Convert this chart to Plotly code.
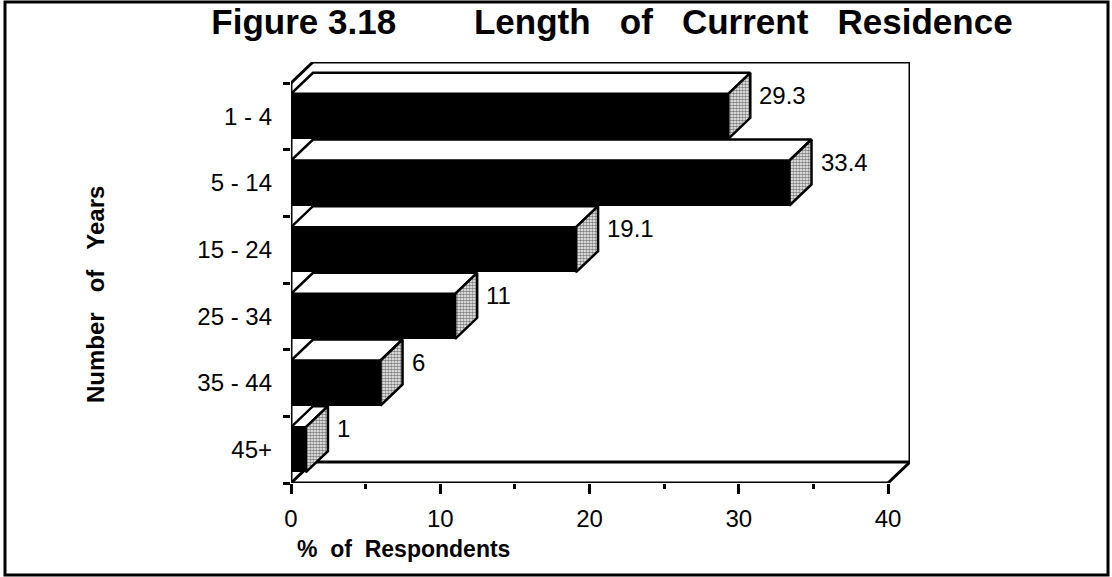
import plotly.graph_objects as go

# Length of current residence, share of respondents (%)
categories = ["1 - 4", "5 - 14", "15 - 24", "25 - 34", "35 - 44", "45+"]
values = [29.3, 33.4, 19.1, 11, 6, 1]
value_labels = ["29.3", "33.4", "19.1", "11", "6", "1"]
x_ticks = [0, 10, 20, 30, 40]

# ---- layout geometry (pixels) ----
W, H = 1112, 577
PL, PR, PT, PB = 291, 910, 62, 483      # plot area incl. 3-D depth
FRONT_RIGHT = 888                       # x = 40 on the front plane
FRONT_TOP = 83                          # top of the front y axis
DX_PX, DY_PX = PR - FRONT_RIGHT, FRONT_TOP - PT

xmax = x_ticks[-1]
ux = xmax / (FRONT_RIGHT - PL)          # data units per px (x)
n = len(categories)
uy = n / (PB - FRONT_TOP)               # data units per px (y)
dx = DX_PX * ux
dy = DY_PX * uy
x_range = [0, (PR - PL) * ux]
y_lo, y_hi = -0.5, n - 0.5
y_range = [y_hi, y_lo - dy]             # reversed: first category on top
half = 0.3375                           # half bar thickness

pos = list(range(n))

fig = go.Figure()

# frame: back wall, floor and wall edges
frame = dict(type="line", xref="x", yref="y", line=dict(color="black", width=3), layer="below")
segs = [
    (dx, y_lo - dy, xmax + dx, y_lo - dy),         # back wall top
    (xmax + dx, y_lo - dy, xmax + dx, y_hi - dy),  # back wall right
    (dx, y_hi - dy, xmax + dx, y_hi - dy),         # floor back edge
    (0, y_lo, dx, y_lo - dy),                      # left wall top edge
    (0, y_hi, dx, y_hi - dy),                      # floor left edge
    (xmax, y_hi, xmax + dx, y_hi - dy),            # floor right edge
    (0, y_lo, 0, y_hi),                            # front y axis
    (0, y_hi, xmax, y_hi),                         # front x axis
]
shapes = [dict(frame, x0=a, y0=b, x1=c, y1=d) for a, b, c, d in segs]

# front faces
fig.add_trace(go.Bar(
    x=values, y=pos, orientation="h", width=2 * half,
    marker=dict(color="black", line=dict(width=0)),
    hoverinfo="skip", showlegend=False,
))

# top faces
tx, ty = [], []
for v, c in zip(values, pos):
    t = c - half
    tx += [0, v, v + dx, dx, 0, None]
    ty += [t, t, t - dy, t - dy, t, None]
fig.add_trace(go.Scatter(
    x=tx, y=ty, mode="lines", fill="toself", fillcolor="white",
    line=dict(color="black", width=2.5), hoverinfo="skip", showlegend=False,
))

# end (side) faces, stippled
sx, sy = [], []
for v, c in zip(values, pos):
    t, b = c - half, c + half
    sx += [v, v + dx, v + dx, v, v, None]
    sy += [t, t - dy, b - dy, b, t, None]
fig.add_trace(go.Scatter(
    x=sx, y=sy, mode="lines", fill="toself",
    fillpattern=dict(shape=".", fgcolor="black", bgcolor="white", size=3, solidity=0.6),
    line=dict(color="black", width=2.5), hoverinfo="skip", showlegend=False,
))

font = "Liberation Sans, Arial, Helvetica, sans-serif"
annotations = []
for v, c, lab in zip(values, pos, value_labels):
    annotations.append(dict(
        x=v + dx, y=c - dy, xref="x", yref="y", text=lab, showarrow=False,
        xanchor="left", yanchor="middle", xshift=7,
        font=dict(family=font, size=24, color="black"),
    ))


def px_to_paper(px, py):
    return (px - PL) / (PR - PL), (PB - py) / (PB - PT)


ax_x, ax_y = px_to_paper(403, 549)
annotations.append(dict(
    x=ax_x, y=ax_y, xref="paper", yref="paper", showarrow=False,
    text="%&nbsp;&nbsp;of&nbsp;&nbsp;Respondents", xanchor="center", yanchor="middle",
    font=dict(family=font, size=23, color="black", weight="bold"),
))
ay_x, ay_y = px_to_paper(95, 294)
annotations.append(dict(
    x=ay_x, y=ay_y, xref="paper", yref="paper", showarrow=False, textangle=-90,
    text="Number&nbsp;&nbsp;&nbsp;of&nbsp;&nbsp;&nbsp;Years", xanchor="center", yanchor="middle",
    font=dict(family=font, size=24, color="black", weight="bold"),
))

# outer border
bx0, by0 = px_to_paper(5, 575)
bx1, by1 = px_to_paper(1108, 2)
shapes.append(dict(type="rect", xref="paper", yref="paper", x0=bx0, y0=by0, x1=bx1, y1=by1,
                   line=dict(color="black", width=3), fillcolor="rgba(0,0,0,0)"))

title_text = ("Figure&nbsp;3.18" + "&nbsp;" * 8 +
              "Length&nbsp;&nbsp;&nbsp;of&nbsp;&nbsp;&nbsp;Current&nbsp;&nbsp;&nbsp;Residence")

fig.update_layout(
    width=W, height=H,
    margin=dict(l=PL, r=W - PR, t=PT, b=H - PB, pad=0),
    paper_bgcolor="white", plot_bgcolor="white",
    title=dict(
        text=title_text,
        x=612 / W, y=1 - 22 / H, xref="container", yref="container",
        xanchor="center", yanchor="middle",
        font=dict(family=font, size=35, color="black", weight="bold"),
    ),
    xaxis=dict(
        range=x_range, tickvals=x_ticks, ticktext=[str(t) for t in x_ticks],
        ticks="outside", ticklen=10, tickwidth=3, tickcolor="black",
        minor=dict(tickvals=[5, 15, 25, 35], ticks="outside", ticklen=5, tickwidth=3, tickcolor="black"),
        showgrid=False, zeroline=False, showline=False,
        tickfont=dict(family=font, size=24, color="black"),
        ticklabelstandoff=4, fixedrange=True,
    ),
    yaxis=dict(
        range=y_range, tickvals=pos, ticktext=categories,
        ticks="", minor=dict(tickvals=[p - 0.5 for p in pos] + [y_hi], ticks="outside",
                             ticklen=7, tickwidth=3, tickcolor="black"),
        showgrid=False, zeroline=False, showline=False,
        tickfont=dict(family=font, size=24, color="black"),
        ticklabelstandoff=18, fixedrange=True,
    ),
    shapes=shapes,
    annotations=annotations,
    bargap=0,
)
fig.write_html("out.html")
